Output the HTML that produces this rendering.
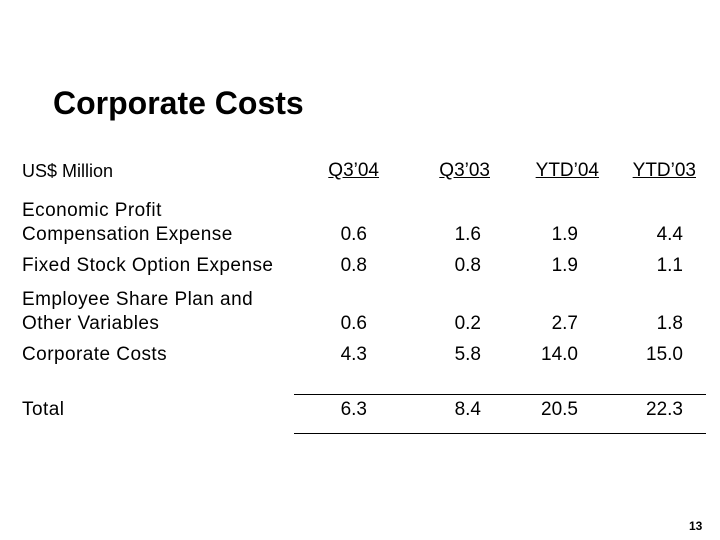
<!DOCTYPE html>
<html><head><style>
body{margin:0;width:720px;height:540px;background:#fff;position:relative;font-family:"Liberation Sans",Arial,sans-serif;color:#000;overflow:hidden}
div{position:absolute;white-space:nowrap;line-height:20px;font-size:19px}
.l{letter-spacing:0.45px}
.r{text-align:right;width:100px}
.u{text-decoration:underline}
.ln{height:1px;background:#000;left:294px;width:412px}
</style></head><body>
<div style="left:53px;top:86px;font-size:32px;line-height:34px;font-weight:bold">Corporate Costs</div>
<div style="left:22px;top:161px;font-size:18px">US$ Million</div>
<div class="r u" style="left:279px;top:161px">Q3’04</div>
<div class="r u" style="left:390px;top:161px">Q3’03</div>
<div class="r u" style="left:499px;top:161px">YTD’04</div>
<div class="r u" style="left:596px;top:161px">YTD’03</div>

<div class="l" style="left:22px;top:201px">Economic Profit</div>
<div class="l" style="left:22px;top:225px">Compensation Expense</div>
<div class="l" style="left:22px;top:256px">Fixed Stock Option Expense</div>
<div class="l" style="left:22px;top:290px">Employee Share Plan and</div>
<div class="l" style="left:22px;top:314px">Other Variables</div>
<div class="l" style="left:22px;top:345px">Corporate Costs</div>
<div class="l" style="left:22px;top:400px">Total</div>

<div class="r" style="left:267px;top:225px">0.6</div><div class="r" style="left:381px;top:225px">1.6</div><div class="r" style="left:478px;top:225px">1.9</div><div class="r" style="left:583px;top:225px">4.4</div>
<div class="r" style="left:267px;top:256px">0.8</div><div class="r" style="left:381px;top:256px">0.8</div><div class="r" style="left:478px;top:256px">1.9</div><div class="r" style="left:583px;top:256px">1.1</div>
<div class="r" style="left:267px;top:314px">0.6</div><div class="r" style="left:381px;top:314px">0.2</div><div class="r" style="left:478px;top:314px">2.7</div><div class="r" style="left:583px;top:314px">1.8</div>
<div class="r" style="left:267px;top:345px">4.3</div><div class="r" style="left:381px;top:345px">5.8</div><div class="r" style="left:478px;top:345px">14.0</div><div class="r" style="left:583px;top:345px">15.0</div>
<div class="ln" style="top:394px"></div>
<div class="r" style="left:267px;top:400px">6.3</div><div class="r" style="left:381px;top:400px">8.4</div><div class="r" style="left:478px;top:400px">20.5</div><div class="r" style="left:583px;top:400px">22.3</div>
<div class="ln" style="top:433px"></div>
<div style="left:689px;top:519px;font-size:12px;line-height:14px;font-weight:bold">13</div>
</body></html>
